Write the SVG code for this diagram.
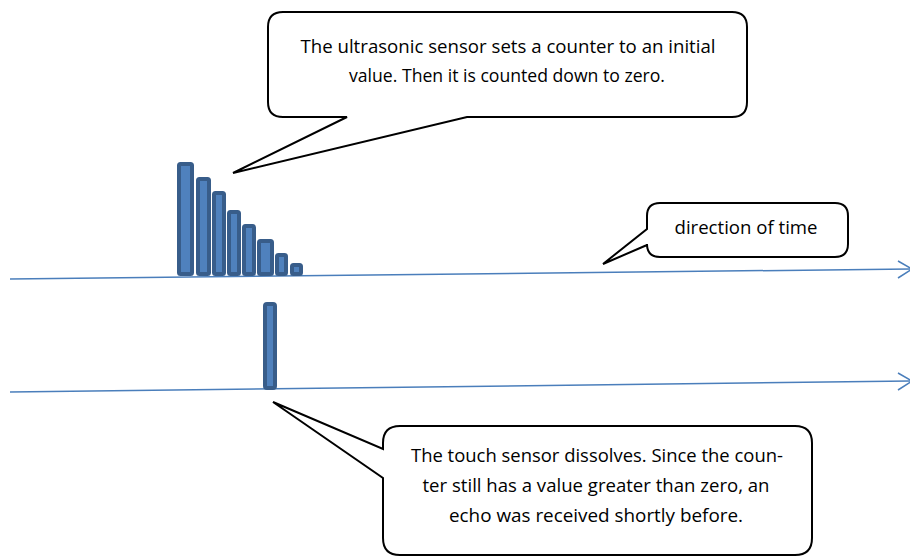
<svg xmlns="http://www.w3.org/2000/svg" width="910" height="557" viewBox="0 0 910 557">
<style>
.callout{fill:#fff;stroke:#000;stroke-width:2;stroke-linejoin:miter}
.txt{font-family:"Open Sans","Liberation Sans",Arial,sans-serif;font-size:17.5px;fill:#000;text-anchor:middle}
.bar{fill:#4f81bd;stroke:#385d8a;stroke-width:4}
.axis{fill:none;stroke:#4a7ebb;stroke-width:1.5}
</style>
<rect width="910" height="557" fill="#fff"/>
<g id="connectors">
<line class="axis" x1="10" y1="279" x2="910" y2="269"/>
<polyline class="axis" points="898,261 912,269 898,278"/>
<line class="axis" x1="10" y1="392" x2="910" y2="381"/>
<polyline class="axis" points="898,373 912,381 898,390"/>
</g>
<g id="counter-bars">
<rect class="bar" x="179" y="164" width="13" height="110" rx="1.5"/>
<rect class="bar" x="198" y="179" width="11" height="95" rx="1.5"/>
<rect class="bar" x="214" y="193" width="10" height="81" rx="1.5"/>
<rect class="bar" x="229" y="212" width="10" height="62" rx="1.5"/>
<rect class="bar" x="244" y="226" width="10" height="48" rx="1.5"/>
<rect class="bar" x="259" y="241" width="13" height="33" rx="1.5"/>
<rect class="bar" x="277" y="255" width="9" height="19" rx="1.5"/>
<rect class="bar" x="292" y="265" width="9" height="9" rx="1.5"/>
</g>
<g id="touch-bar">
<rect class="bar" x="265" y="304" width="10" height="84" rx="2"/>
</g>
<g id="callout-ultrasonic">
<path class="callout" d="M283,12 H732 Q747,12 747,27 V102 Q747,117 732,117 H467 L233,173 L347,117 H283 Q268,117 268,102 V27 Q268,12 283,12 Z"/>
<text class="txt" x="508" y="53" textLength="415" lengthAdjust="spacingAndGlyphs">The ultrasonic sensor sets a counter to an initial</text>
<text class="txt" x="507" y="82" textLength="316" lengthAdjust="spacingAndGlyphs">value. Then it is counted down to zero.</text>
</g>
<g id="callout-time">
<path class="callout" d="M660,203 H835 Q848,203 848,216 V244 Q848,257 835,257 H660 Q647,257 647,244 V245 L603,264 L647,229 V216 Q647,203 660,203 Z"/>
<text class="txt" x="746" y="234" textLength="143" lengthAdjust="spacingAndGlyphs">direction of time</text>
</g>
<g id="callout-touch">
<path class="callout" d="M400,426 H795 Q812,426 812,443 V538 Q812,555 795,555 H400 Q383,555 383,538 V478 L273,402 L383,449 V443 Q383,426 400,426 Z"/>
<text class="txt" x="597" y="462" textLength="372" lengthAdjust="spacingAndGlyphs">The touch sensor dissolves. Since the coun-</text>
<text class="txt" x="596" y="492" textLength="347" lengthAdjust="spacingAndGlyphs">ter still has a value greater than zero, an</text>
<text class="txt" x="596" y="522" textLength="294" lengthAdjust="spacingAndGlyphs">echo was received shortly before.</text>
</g>
</svg>
